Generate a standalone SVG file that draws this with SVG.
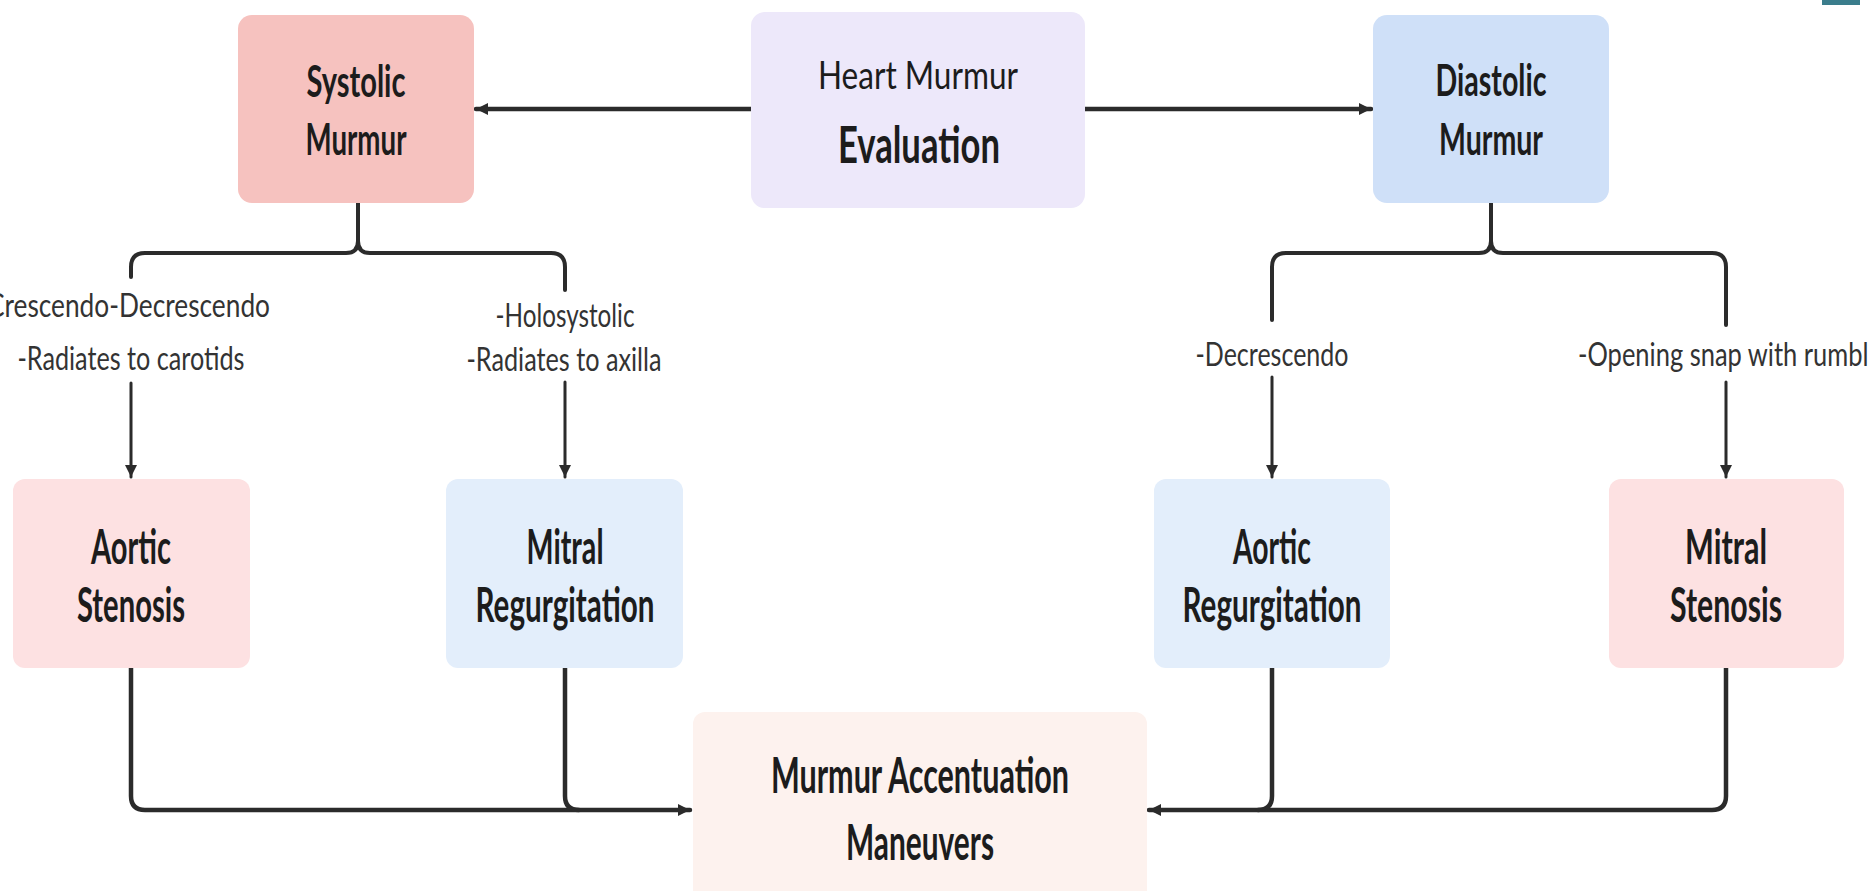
<svg xmlns="http://www.w3.org/2000/svg" width="1868" height="891" viewBox="0 0 1868 891">
<defs>
<style>
.box{stroke:none}
.t{font-family:Lato,"Open Sans","Liberation Sans",sans-serif;font-weight:700;fill:#1c1c1c;text-anchor:middle}
.lbl{font-family:Lato,"Open Sans","Liberation Sans",sans-serif;font-weight:400;fill:#333333;font-size:32px;text-anchor:middle}
.c{fill:none;stroke:#2b2b2b;stroke-linecap:round;stroke-linejoin:round}
</style>
<marker id="ah" viewBox="0 0 10 10" refX="10" refY="5" markerWidth="12" markerHeight="12" markerUnits="userSpaceOnUse" orient="auto">
<path d="M0,0 L10,5 L0,10 z" fill="#2b2b2b"/>
</marker>
</defs>
<rect width="1868" height="891" fill="#ffffff"/>
<rect x="1822" y="0" width="38" height="5" fill="#3b7d8c"/>

<g id="connectors">
<path class="c" stroke-width="4.5" d="M751,109 H476" marker-end="url(#ah)"/>
<path class="c" stroke-width="4.5" d="M1085,109 H1371" marker-end="url(#ah)"/>
<path class="c" stroke-width="4" d="M358,203 V241 Q358,253 346,253 H145 Q131,253 131,267 V277"/>
<path class="c" stroke-width="4" d="M358,241 Q358,253 370,253 H551 Q565,253 565,267 V290"/>
<path class="c" stroke-width="4" d="M1491,203 V241 Q1491,253 1479,253 H1286 Q1272,253 1272,267 V320"/>
<path class="c" stroke-width="4" d="M1491,241 Q1491,253 1503,253 H1712 Q1726,253 1726,267 V325"/>
<path class="c" stroke-width="3" d="M131,383 V477" marker-end="url(#ah)"/>
<path class="c" stroke-width="3" d="M565,382 V477" marker-end="url(#ah)"/>
<path class="c" stroke-width="3" d="M1272,377 V477" marker-end="url(#ah)"/>
<path class="c" stroke-width="3" d="M1726,382 V477" marker-end="url(#ah)"/>
<path class="c" stroke-width="4.5" d="M131,668 V796 Q131,810 145,810 H690" marker-end="url(#ah)"/>
<path class="c" stroke-width="4.5" d="M565,668 V796 Q565,810 579,810"/>
<path class="c" stroke-width="4.5" d="M1726,668 V796 Q1726,810 1712,810 H1149" marker-end="url(#ah)"/>
<path class="c" stroke-width="4.5" d="M1272,668 V796 Q1272,810 1258,810"/>
<text class="lbl" x="-13" y="317" textLength="283" lengthAdjust="spacingAndGlyphs" style="text-anchor:start">Crescendo-Decrescendo</text>
<text class="lbl" x="131" y="370" textLength="227" lengthAdjust="spacingAndGlyphs">-Radiates to carotids</text>
<text class="lbl" x="565" y="327" textLength="139" lengthAdjust="spacingAndGlyphs">-Holosystolic</text>
<text class="lbl" x="564" y="371" textLength="195" lengthAdjust="spacingAndGlyphs">-Radiates to axilla</text>
<text class="lbl" x="1272" y="366" textLength="153" lengthAdjust="spacingAndGlyphs">-Decrescendo</text>
<text class="lbl" x="1578" y="366" textLength="304" lengthAdjust="spacingAndGlyphs" style="text-anchor:start">-Opening snap with rumble</text>
</g>

<g id="heart-murmur-evaluation">
<rect class="box" x="751" y="12" width="334" height="196" rx="14" fill="#ede8fa"/>
<text class="t" x="918" y="89" font-size="38" style="font-weight:400" textLength="200" lengthAdjust="spacingAndGlyphs">Heart Murmur</text>
<text class="t" x="919" y="163" font-size="52" textLength="162" lengthAdjust="spacingAndGlyphs">Evaluation</text>
</g>

<g id="systolic-murmur">
<rect class="box" x="238" y="15" width="236" height="188" rx="14" fill="#f6c2bf"/>
<text class="t" x="356" y="97" font-size="43" textLength="99" lengthAdjust="spacingAndGlyphs">Systolic</text>
<text class="t" x="356" y="155" font-size="43" textLength="101" lengthAdjust="spacingAndGlyphs">Murmur</text>
</g>

<g id="diastolic-murmur">
<rect class="box" x="1373" y="15" width="236" height="188" rx="14" fill="#cfe0f8"/>
<text class="t" x="1491" y="96" font-size="43" textLength="111" lengthAdjust="spacingAndGlyphs">Diastolic</text>
<text class="t" x="1491" y="155" font-size="43" textLength="104" lengthAdjust="spacingAndGlyphs">Murmur</text>
</g>

<g id="aortic-stenosis">
<rect class="box" x="13" y="479" width="237" height="189" rx="12" fill="#fde1e2"/>
<text class="t" x="131" y="564" font-size="48" textLength="80" lengthAdjust="spacingAndGlyphs">Aortic</text>
<text class="t" x="131" y="622" font-size="48" textLength="108" lengthAdjust="spacingAndGlyphs">Stenosis</text>
</g>

<g id="mitral-regurgitation">
<rect class="box" x="446" y="479" width="237" height="189" rx="12" fill="#e3eefb"/>
<text class="t" x="565" y="564" font-size="48" textLength="77" lengthAdjust="spacingAndGlyphs">Mitral</text>
<text class="t" x="565" y="622" font-size="48" textLength="179" lengthAdjust="spacingAndGlyphs">Regurgitation</text>
</g>

<g id="aortic-regurgitation">
<rect class="box" x="1154" y="479" width="236" height="189" rx="12" fill="#e3eefb"/>
<text class="t" x="1272" y="564" font-size="48" textLength="78" lengthAdjust="spacingAndGlyphs">Aortic</text>
<text class="t" x="1272" y="622" font-size="48" textLength="179" lengthAdjust="spacingAndGlyphs">Regurgitation</text>
</g>

<g id="mitral-stenosis">
<rect class="box" x="1609" y="479" width="235" height="189" rx="12" fill="#fde1e2"/>
<text class="t" x="1726" y="564" font-size="48" textLength="82" lengthAdjust="spacingAndGlyphs">Mitral</text>
<text class="t" x="1726" y="622" font-size="48" textLength="112" lengthAdjust="spacingAndGlyphs">Stenosis</text>
</g>

<g id="murmur-accentuation-maneuvers">
<rect class="box" x="693" y="712" width="454" height="200" rx="12" fill="#fdf2ee"/>
<text class="t" x="920" y="793" font-size="50" textLength="298" lengthAdjust="spacingAndGlyphs">Murmur Accentuation</text>
<text class="t" x="920" y="860" font-size="50" textLength="148" lengthAdjust="spacingAndGlyphs">Maneuvers</text>
</g>
</svg>
